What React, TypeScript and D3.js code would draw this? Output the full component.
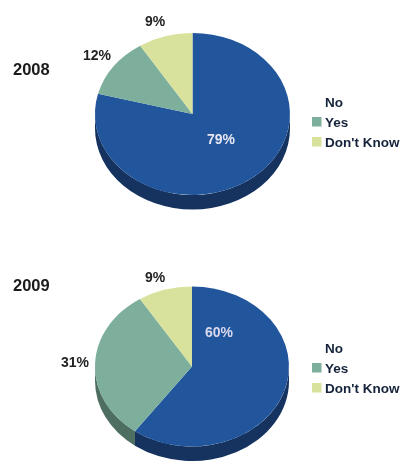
import React from "react";
import * as d3 from "d3";

const categories = ["No", "Yes", "Don't Know"];
const values2008 = [79, 12, 9];
const values2009 = [60, 31, 9];
const topColors = ["#23569c", "#7daf9c", "#d9e29c"];
const sideColors = ["#12305f", "#4f6e62", "#8f9566"];
const FONT = "'Liberation Sans', Arial, sans-serif";

const pieGen = d3.pie<number>().sort(null).value((d) => d);
const arcGen = d3.arc<d3.PieArcDatum<number>>().innerRadius(0).outerRadius(1);

function sidePath(a0: number, a1: number, rx: number, ry: number, depth: number) {
  const s = Math.max(a0, Math.PI / 2);
  const e = Math.min(a1, (3 * Math.PI) / 2);
  if (e <= s) return null;
  const x = d3.scaleLinear().domain([-1, 1]).range([-rx, rx]);
  const y = d3.scaleLinear().domain([-1, 1]).range([-ry, ry]);
  const px = (a: number) => x(Math.sin(a));
  const py = (a: number) => y(-Math.cos(a));
  const large = e - s > Math.PI ? 1 : 0;
  return (
    `M${px(s)},${py(s)}A${rx},${ry} 0 ${large} 1 ${px(e)},${py(e)}` +
    `L${px(e)},${py(e) + depth}A${rx},${ry} 0 ${large} 0 ${px(s)},${py(s) + depth}Z`
  );
}

type PieProps = {
  values: number[];
  year: string;
  cx: number;
  cy: number;
  rx: number;
  ry: number;
  yearY: number;
  labels: { x: number; y: number; fill: string }[];
  legendY: number;
};

function Pie3D({ values, year, cx, cy, rx, ry, yearY, labels, legendY }: PieProps) {
  const depth = 14.5;
  const arcs = pieGen(values);
  return (
    <g fontFamily={FONT} fontWeight="bold">
      <g transform={`translate(${cx},${cy})`}>
        {arcs.map((a, i) => {
          const d = sidePath(a.startAngle, a.endAngle, rx, ry, depth);
          return d ? <path key={i} d={d} fill={sideColors[i]} /> : null;
        })}
        <g transform={`scale(${rx},${ry})`}>
          {arcs.map((a, i) => (
            <path key={i} d={arcGen(a) as string} fill={topColors[i]} />
          ))}
        </g>
      </g>
      {values.map((v, i) => (
        <text key={i} x={labels[i].x} y={labels[i].y} textAnchor="middle" fontSize={14} fill={labels[i].fill}>
          {v}%
        </text>
      ))}
      <text x={13} y={yearY} fontSize={16.5} fill="#1a1a1a">
        {year}
      </text>
      {categories.map((c, i) => (
        <g key={c}>
          {i > 0 && (
            <rect x={312} y={legendY + i * 20 - 9} width={9.5} height={9.5} fill={topColors[i]} />
          )}
          <text x={325} y={legendY + i * 20 + 0.5} fontSize={13.5} fill="#14233a">
            {c}
          </text>
        </g>
      ))}
    </g>
  );
}

export default function App() {
  return (
    <svg width={402} height={462} style={{ position: "absolute", left: 0, top: 0, background: "#fff" }}>
      <defs>
        <filter id="soft" x="-5%" y="-5%" width="110%" height="110%">
          <feGaussianBlur stdDeviation="0.6" />
        </filter>
      </defs>
      <g filter="url(#soft)">
        <Pie3D
          values={values2008}
          year="2008"
          cx={192.5}
          cy={114}
          rx={97.5}
          ry={81}
          yearY={74.5}
          legendY={106}
          labels={[
            { x: 221, y: 144, fill: "#e6e6f2" },
            { x: 97, y: 60, fill: "#222" },
            { x: 155, y: 26, fill: "#222" },
          ]}
        />
        <Pie3D
          values={values2009}
          year="2009"
          cx={192}
          cy={366.5}
          rx={97}
          ry={80}
          yearY={290.5}
          legendY={352}
          labels={[
            { x: 219, y: 337, fill: "#d8d8ee" },
            { x: 75, y: 367, fill: "#222" },
            { x: 155, y: 282, fill: "#222" },
          ]}
        />
      </g>
    </svg>
  );
}
